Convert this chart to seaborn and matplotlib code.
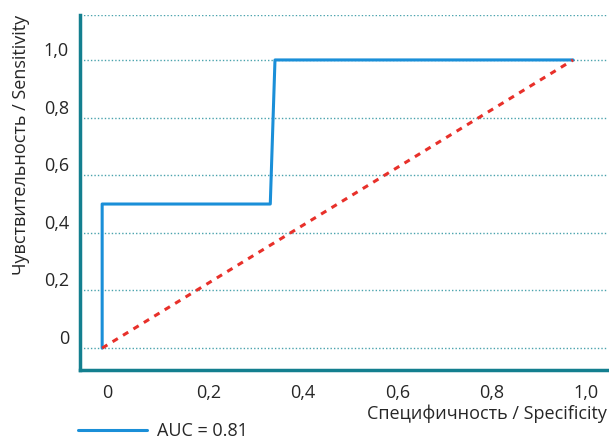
import pandas as pd
import matplotlib.pyplot as plt
import seaborn as sns

# ROC curve points
spec = [0.0, 0.0, 0.357, 0.367, 1.0]
sens = [0.0, 0.5, 0.5, 1.0, 1.0]
diag_x = [0.0, 1.0]
diag_y = [0.0, 1.0]
ticks = [0.0, 0.2, 0.4, 0.6, 0.8, 1.0]
tick_labels = ["0", "0,2", "0,4", "0,6", "0,8", "1,0"]
auc_label = "AUC = 0.81"

sns.set_style("white")
plt.rcParams['font.family'] = ['Open Sans', 'DejaVu Sans']

teal = "#137f8f"
blue = "#1a8fd8"
red = "#e8302a"
fs = 13

fig = plt.figure(figsize=(6.09, 4.41), dpi=100)
ax = fig.add_axes([0.1314, 0.161, 0.8653, 0.805])

roc = pd.DataFrame({"spec": spec, "sens": sens})
sns.lineplot(data=roc, x="spec", y="sens", sort=False, estimator=None,
             color=blue, linewidth=2.2, label=auc_label, ax=ax)
sns.lineplot(x=diag_x, y=diag_y, color=red, linewidth=2.2,
             linestyle=(0, (2, 2)), ax=ax, legend=False)

ax.set_xlim(-0.047, 1.072)
ax.set_ylim(-0.076, 1.156)

ax.set_xticks(ticks)
ax.set_xticklabels(tick_labels, ha="left", fontsize=fs)
ax.set_yticks(ticks)
ax.set_yticklabels(tick_labels, va="bottom", fontsize=fs)
ax.tick_params(axis="both", length=8, width=1.2, color="#4aa3ad")
ax.tick_params(axis="y", pad=0)
ax.tick_params(axis="x", pad=2)

# dotted horizontal grid, including the top edge
for y in ticks + [1.156]:
    ax.axhline(y, color="#4aa3ad", linestyle=(0, (1, 1.5)), linewidth=1, zorder=0)

for side in ["top", "right"]:
    ax.spines[side].set_visible(False)
for side in ["left", "bottom"]:
    ax.spines[side].set_color(teal)
    ax.spines[side].set_linewidth(2.5)

ax.set_xlabel("Специфичность / Specificity", fontsize=fs, loc="right", labelpad=2)
ax.set_ylabel("Чувствительность / Sensitivity", fontsize=fs, loc="top", labelpad=10)

handles, labels = ax.get_legend_handles_labels()
ax.get_legend().remove()
fig.legend(handles, labels, loc="center left", bbox_to_anchor=(78 / 609, 10 / 441),
           frameon=False, handlelength=3.8, fontsize=fs, borderaxespad=0,
           borderpad=0, handletextpad=0.6)

fig.savefig("out.png", dpi=100)
